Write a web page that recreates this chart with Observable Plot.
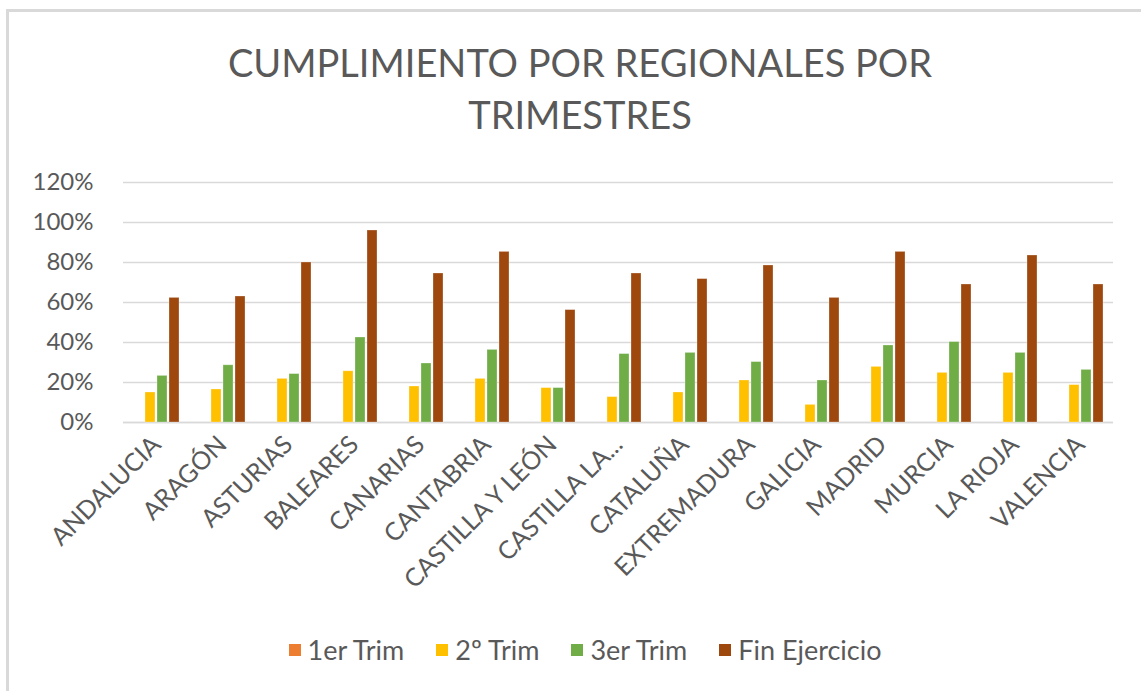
<!DOCTYPE html>
<html>
<head>
<meta charset="utf-8">
<script src="https://cdn.jsdelivr.net/npm/d3@7"></script>
<script src="https://cdn.jsdelivr.net/npm/@observablehq/plot@0.6"></script>
<style>
  html, body { margin: 0; padding: 0; background: #fff; }
  body { width: 1141px; height: 691px; position: relative; overflow: hidden; font-family: Lato, "Open Sans", sans-serif; color: #595959; }
  #frame { position: absolute; left: 6px; top: 9px; width: 1200px; height: 800px; border-top: 3px solid #d9d9d9; border-left: 3px solid #d9d9d9; }
  #title { position: absolute; left: 0; width: 1160px; top: 36px; text-align: center; font-size: 38px; line-height: 52px; color: #595959; }
  #chart { position: absolute; left: 0; top: 160px; }
  #legend { position: absolute; top: 633px; left: 0; width: 1170px; display: flex; justify-content: center; gap: 32px; font-size: 27px; color: #595959; }
  .item { display: flex; align-items: center; gap: 7px; }
  .sw { width: 12px; height: 12px; display: inline-block; }
</style>
</head>
<body>
<div id="frame"></div>
<div id="title">CUMPLIMIENTO POR REGIONALES POR<br>TRIMESTRES</div>
<div id="chart"></div>
<div id="legend"></div>
<script>
const regions = ["ANDALUCIA","ARAGÓN","ASTURIAS","BALEARES","CANARIAS","CANTABRIA","CASTILLA Y LEÓN","CASTILLA LA...","CATALUÑA","EXTREMADURA","GALICIA","MADRID","MURCIA","LA RIOJA","VALENCIA"];
const series = ["1er Trim","2º Trim","3er Trim","Fin Ejercicio"];
const colors = ["#ED7D31","#FFC000","#70AD47","#9E480E"];
const trim1 = [0,0,0,0,0,0,0,0,0,0,0,0,0,0,0];
const trim2 = [0.150,0.165,0.218,0.256,0.180,0.218,0.172,0.127,0.150,0.210,0.088,0.278,0.248,0.248,0.187];
const trim3 = [0.233,0.286,0.242,0.425,0.295,0.363,0.172,0.342,0.348,0.302,0.210,0.385,0.402,0.348,0.263];
const fin   = [0.623,0.630,0.800,0.960,0.745,0.853,0.562,0.745,0.717,0.785,0.623,0.853,0.690,0.835,0.690];
const yTicks = [0,0.2,0.4,0.6,0.8,1.0,1.2];

const allSeries = [trim1, trim2, trim3, fin];
const data = regions.flatMap((r, i) => series.map((s, j) => ({region: r, series: s, value: allSeries[j][i]})));

const chart = Plot.plot({
  width: 1141,
  height: 462,
  marginTop: 22,
  marginBottom: 200,
  marginLeft: 117,
  marginRight: 22,
  style: {fontFamily: "Lato, 'Open Sans', sans-serif", fontSize: "22px", color: "#595959", background: "transparent", overflow: "visible"},
  fx: {domain: regions, paddingInner: 0, paddingOuter: 0, label: null},
  x: {domain: series, paddingInner: 0.16, paddingOuter: 0.82, axis: null},
  y: {domain: [0, 1.2], label: null},
  color: {domain: series, range: colors},
  marks: [
    Plot.gridY(yTicks, {stroke: "#d9d9d9", strokeOpacity: 1, strokeWidth: 1.5}),
    Plot.ruleY([0], {stroke: "#d9d9d9", strokeWidth: 1.5}),
    Plot.barY(data, {fx: "region", x: "series", y: "value", fill: "series", stroke: "#ffffff", strokeOpacity: 0.35, strokeWidth: 0.8}),
    Plot.axisY(yTicks, {tickSize: 0, tickPadding: 30, tickFormat: d3.format(".0%"), fontSize: 24, label: null}),
    Plot.axisFx({anchor: "bottom", tickSize: 0, tickPadding: 18, tickRotate: -45, fontSize: 25, label: null, lineWidth: Infinity, textOverflow: null})
  ]
});
document.getElementById("chart").appendChild(chart);

const legend = document.getElementById("legend");
series.forEach((s, i) => {
  const item = document.createElement("div");
  item.className = "item";
  const sw = document.createElement("span");
  sw.className = "sw";
  sw.style.background = colors[i];
  const t = document.createElement("span");
  t.textContent = s;
  item.appendChild(sw);
  item.appendChild(t);
  legend.appendChild(item);
});
</script>
</body>
</html>
